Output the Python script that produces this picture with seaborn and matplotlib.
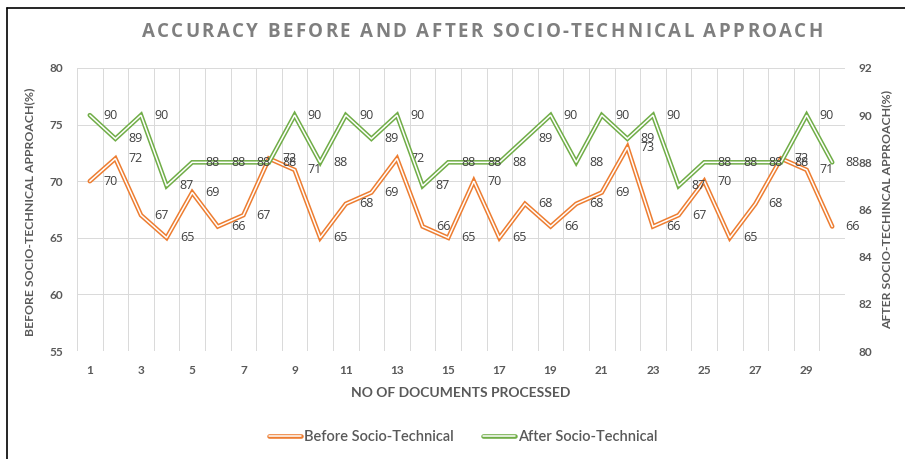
import matplotlib
matplotlib.use("Agg")
import matplotlib.pyplot as plt
import matplotlib.patheffects as pe
from matplotlib.lines import Line2D
import seaborn as sns
import pandas as pd
import numpy as np

# ---- data ----
docs = list(range(1, 31))
before = [70, 72, 67, 65, 69, 66, 67, 72, 71, 65, 68, 69, 72, 66, 65,
          70, 65, 68, 66, 68, 69, 73, 66, 67, 70, 65, 68, 72, 71, 66]
after = [90, 89, 90, 87, 88, 88, 88, 88, 90, 88, 90, 89, 90, 87, 88,
         88, 88, 89, 90, 88, 90, 89, 90, 87, 88, 88, 88, 88, 90, 88]
x_tick_labels = list(range(1, 30, 2))
left_ticks = [55, 60, 65, 70, 75, 80]
right_ticks = [80, 82, 84, 86, 88, 90, 92]

title = "ACCURACY BEFORE AND AFTER SOCIO-TECHNICAL APPROACH"
xlabel = "NO OF DOCUMENTS PROCESSED"
ylabel_left = "BEFORE SOCIO-TECHNICAL APPROACH(%)"
ylabel_right = "AFTER SOCIO-TECHINCAL APPROACH(%)"
series_names = ["Before Socio-Technical", "After Socio-Technical"]

sns.set_theme(style="white")
plt.rcParams['font.family'] = ['Lato', 'DejaVu Sans']

ORANGE = "#ED7D31"
GREEN = "#70AD47"
GRID = "#D9D9D9"
TXT = "#595959"
LBL = "#404040"

W, H = 905, 459
fig = plt.figure(figsize=(W / 100, H / 100), dpi=100)
L, R, T, B = 77, 845, 68, 351
ax = fig.add_axes([L / W, 1 - B / H, (R - L) / W, (B - T) / H])
ax2 = ax.twinx()

df = pd.DataFrame({"doc": docs, "before": before, "after": after})


def dbl(color):
    return [pe.Stroke(linewidth=3.3, foreground=color, joinstyle="miter"),
            pe.Normal()]


sns.lineplot(data=df, x="doc", y="before", ax=ax, color="white", lw=1.1,
             legend=False, zorder=3)
ax.lines[-1].set_path_effects(dbl(ORANGE))
ax.lines[-1].set_solid_joinstyle("miter")
sns.lineplot(data=df, x="doc", y="after", ax=ax2, color="white", lw=1.1,
             legend=False, zorder=3)
ax2.lines[-1].set_path_effects(dbl(GREEN))
ax2.lines[-1].set_solid_joinstyle("miter")

# axes limits & ticks
ax.set_xlim(0.5, 30.5)
ax.set_ylim(55, 80)
ax2.set_ylim(80, 92)
ax.set_xticks(x_tick_labels)
ax.set_xticklabels([str(v) for v in x_tick_labels])
ax.set_xticks(np.arange(0.5, 31, 1), minor=True)
ax.set_yticks(left_ticks)
ax2.set_yticks(right_ticks)
ax.grid(False)
ax2.grid(False)
ax.grid(which="minor", axis="x", color=GRID, lw=0.7)
ax.grid(which="major", axis="y", color=GRID, lw=0.7)
ax.set_axisbelow(True)
for a in (ax, ax2):
    for s in a.spines.values():
        s.set_visible(False)
    a.set_xlabel("")
    a.set_ylabel("")
ax.tick_params(axis="x", which="both", length=0, pad=10, labelsize=8.5,
               labelcolor=TXT)
ax.tick_params(axis="y", length=0, pad=10, labelsize=8.5, labelcolor=TXT)
ax2.tick_params(axis="y", length=0, pad=10, labelsize=8.5, labelcolor=TXT)
for lab in ax.get_xticklabels() + ax.get_yticklabels() + ax2.get_yticklabels():
    lab.set_fontweight("bold")

# data labels
LABEL_FONT = ["Open Sans", "DejaVu Sans"]
for x, v in zip(docs, before):
    ax.annotate(str(v), (x, v), xytext=(9.5, 0), textcoords="offset points",
                ha="left", va="center", fontsize=9, color=LBL, zorder=5,
                family=LABEL_FONT)
for x, v in zip(docs, after):
    ax2.annotate(str(v), (x, v), xytext=(9.5, 0), textcoords="offset points",
                 ha="left", va="center", fontsize=9, color=LBL, zorder=5,
                 family=LABEL_FONT)

# title with letter spacing (each glyph placed after measuring prefixes)
renderer = fig.canvas.get_renderer()
tkw = dict(fontsize=13.5, fontweight="bold", color="#7F7F7F",
           family=["Open Sans", "DejaVu Sans"], va="center", ha="left")


def text_w(s):
    t = fig.text(0, 0, s, **tkw)
    w = t.get_window_extent(renderer).width
    t.remove()
    return w


spacing = 2.4  # px between glyphs
n = len(title)
total = text_w(title) + spacing * (n - 1)
x0 = 482 - total / 2
for k, ch in enumerate(title):
    if ch == " ":
        continue
    xl = x0 + text_w(title[:k + 1]) - text_w(ch) + spacing * k
    fig.text(xl / W, 1 - 32 / H, ch, **tkw)

fig.text(461 / W, 1 - 393 / H, xlabel, ha="center", va="center",
         fontsize=10, fontweight="bold", color=TXT)
fig.text(30 / W, 1 - 212 / H, ylabel_left, ha="center", va="center",
         rotation=90, fontsize=8.8, fontweight="bold", color=TXT)
fig.text(887 / W, 1 - 209 / H, ylabel_right, ha="center", va="center",
         rotation=90, fontsize=8.8, fontweight="bold", color=TXT)

# legend
handles = [Line2D([], [], color="white", lw=1.1, path_effects=dbl(ORANGE)),
           Line2D([], [], color="white", lw=1.1, path_effects=dbl(GREEN))]
leg = fig.legend(handles, series_names, loc="center",
                 bbox_to_anchor=(463 / W, 1 - 437 / H), ncol=2, frameon=False,
                 handlelength=2.2, handletextpad=0.2, columnspacing=2.0,
                 fontsize=10.5, labelcolor=TXT)
for t in leg.get_texts():
    t.set_fontweight("semibold")

# outer border (left and top)
fig.add_artist(Line2D([7 / W, 7 / W], [0, 1 - 8 / H], color="black", lw=1.2,
                      transform=fig.transFigure))
fig.add_artist(Line2D([7 / W, 1], [1 - 8 / H, 1 - 8 / H], color="black",
                      lw=1.2, transform=fig.transFigure))

fig.savefig("out.png", dpi=100)
